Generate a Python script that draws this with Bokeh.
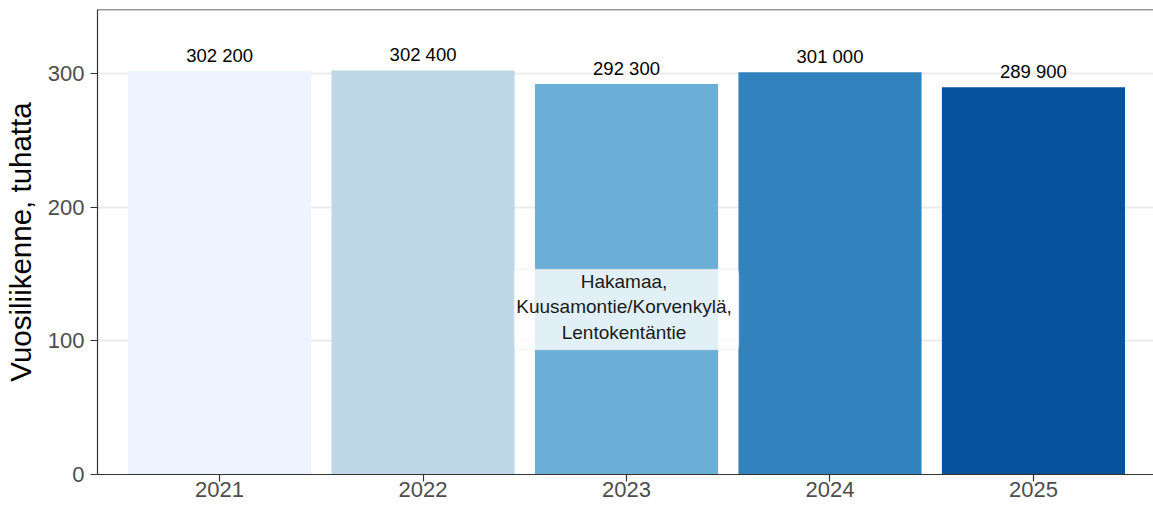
from bokeh.plotting import figure
from bokeh.models import Range1d, FixedTicker, Label, Span, ColumnDataSource
from bokeh.core.properties import value
from bokeh.embed import file_html
from bokeh.resources import INLINE

# Data
years = [2021, 2022, 2023, 2024, 2025]
traffic_thousands = [302.2, 302.4, 292.3, 301.0, 289.9]
bar_colors = ["#eff3ff", "#bdd7e7", "#6baed6", "#3182bd", "#08519c"]
y_ticks = [0, 100, 200, 300]
y_title = "Vuosiliikenne, tuhatta"
note_text = "Hakamaa,\nKuusamontie/Korvenkylä,\nLentokentäntie"
note_year = 2023
note_value = 123.5

labels = [f"{int(round(v * 1000)):,}".replace(",", " ") for v in traffic_thousands]

src = ColumnDataSource(dict(x=years, top=traffic_thousands, color=bar_colors, label=labels))

FONT = "Liberation Sans"

p = figure(width=1153, height=506, output_backend="svg", toolbar_location=None,
           x_range=Range1d(2020.4, 2025.59), y_range=Range1d(0, 348),
           min_border_left=97, min_border_right=0, min_border_top=9, min_border_bottom=32)

p.vbar(x="x", top="top", bottom=0, width=0.9, color="color", line_color=None, source=src)

p.text(x="x", y="top", text="label", source=src, text_align="center",
       text_baseline="bottom", y_offset=-5, text_font=value(FONT),
       text_font_size="18.5px", text_color="#000000")

note = Label(x=note_year, y=note_value, text=note_text, text_align="center",
             text_baseline="middle", text_font=FONT, text_font_size="19px",
             text_color="#1a1a1a", text_line_height=1.2,
             background_fill_color="white", background_fill_alpha=0.8,
             border_line_color="#e8e8e8", border_line_alpha=0.6,
             padding=(2, 7, 2, 7), border_radius=4)
p.add_layout(note)

p.outline_line_color = None
top_line = Span(location=348, dimension="width", line_color="#333333", line_width=1.5)
p.add_layout(top_line)

p.xgrid.grid_line_color = None
p.ygrid.grid_line_color = "#ebebeb"
p.ygrid.grid_line_width = 2
p.ygrid.ticker = FixedTicker(ticks=y_ticks)

p.xaxis.ticker = FixedTicker(ticks=years)
p.yaxis.ticker = FixedTicker(ticks=y_ticks)

for ax in (p.xaxis[0], p.yaxis[0]):
    ax.axis_line_color = "#333333"
    ax.axis_line_width = 1.2
    ax.major_tick_line_color = "#333333"
    ax.major_tick_line_width = 1.2
    ax.major_tick_out = 7
    ax.major_tick_in = 0
    ax.minor_tick_line_color = None
    ax.major_label_text_font = FONT
    ax.major_label_text_font_size = "22px"
    ax.major_label_text_color = "#4d4d4d"

p.xaxis.major_label_standoff = 0
p.yaxis.major_label_standoff = 6
p.yaxis.axis_label = y_title
p.yaxis.axis_label_text_font = FONT
p.yaxis.axis_label_text_font_size = "29.5px"
p.yaxis.axis_label_text_font_style = "normal"
p.yaxis.axis_label_text_color = "#000000"
p.yaxis.axis_label_standoff = 8

p.background_fill_color = "white"
p.border_fill_color = "white"

open("out.html", "w").write(file_html(p, INLINE))
